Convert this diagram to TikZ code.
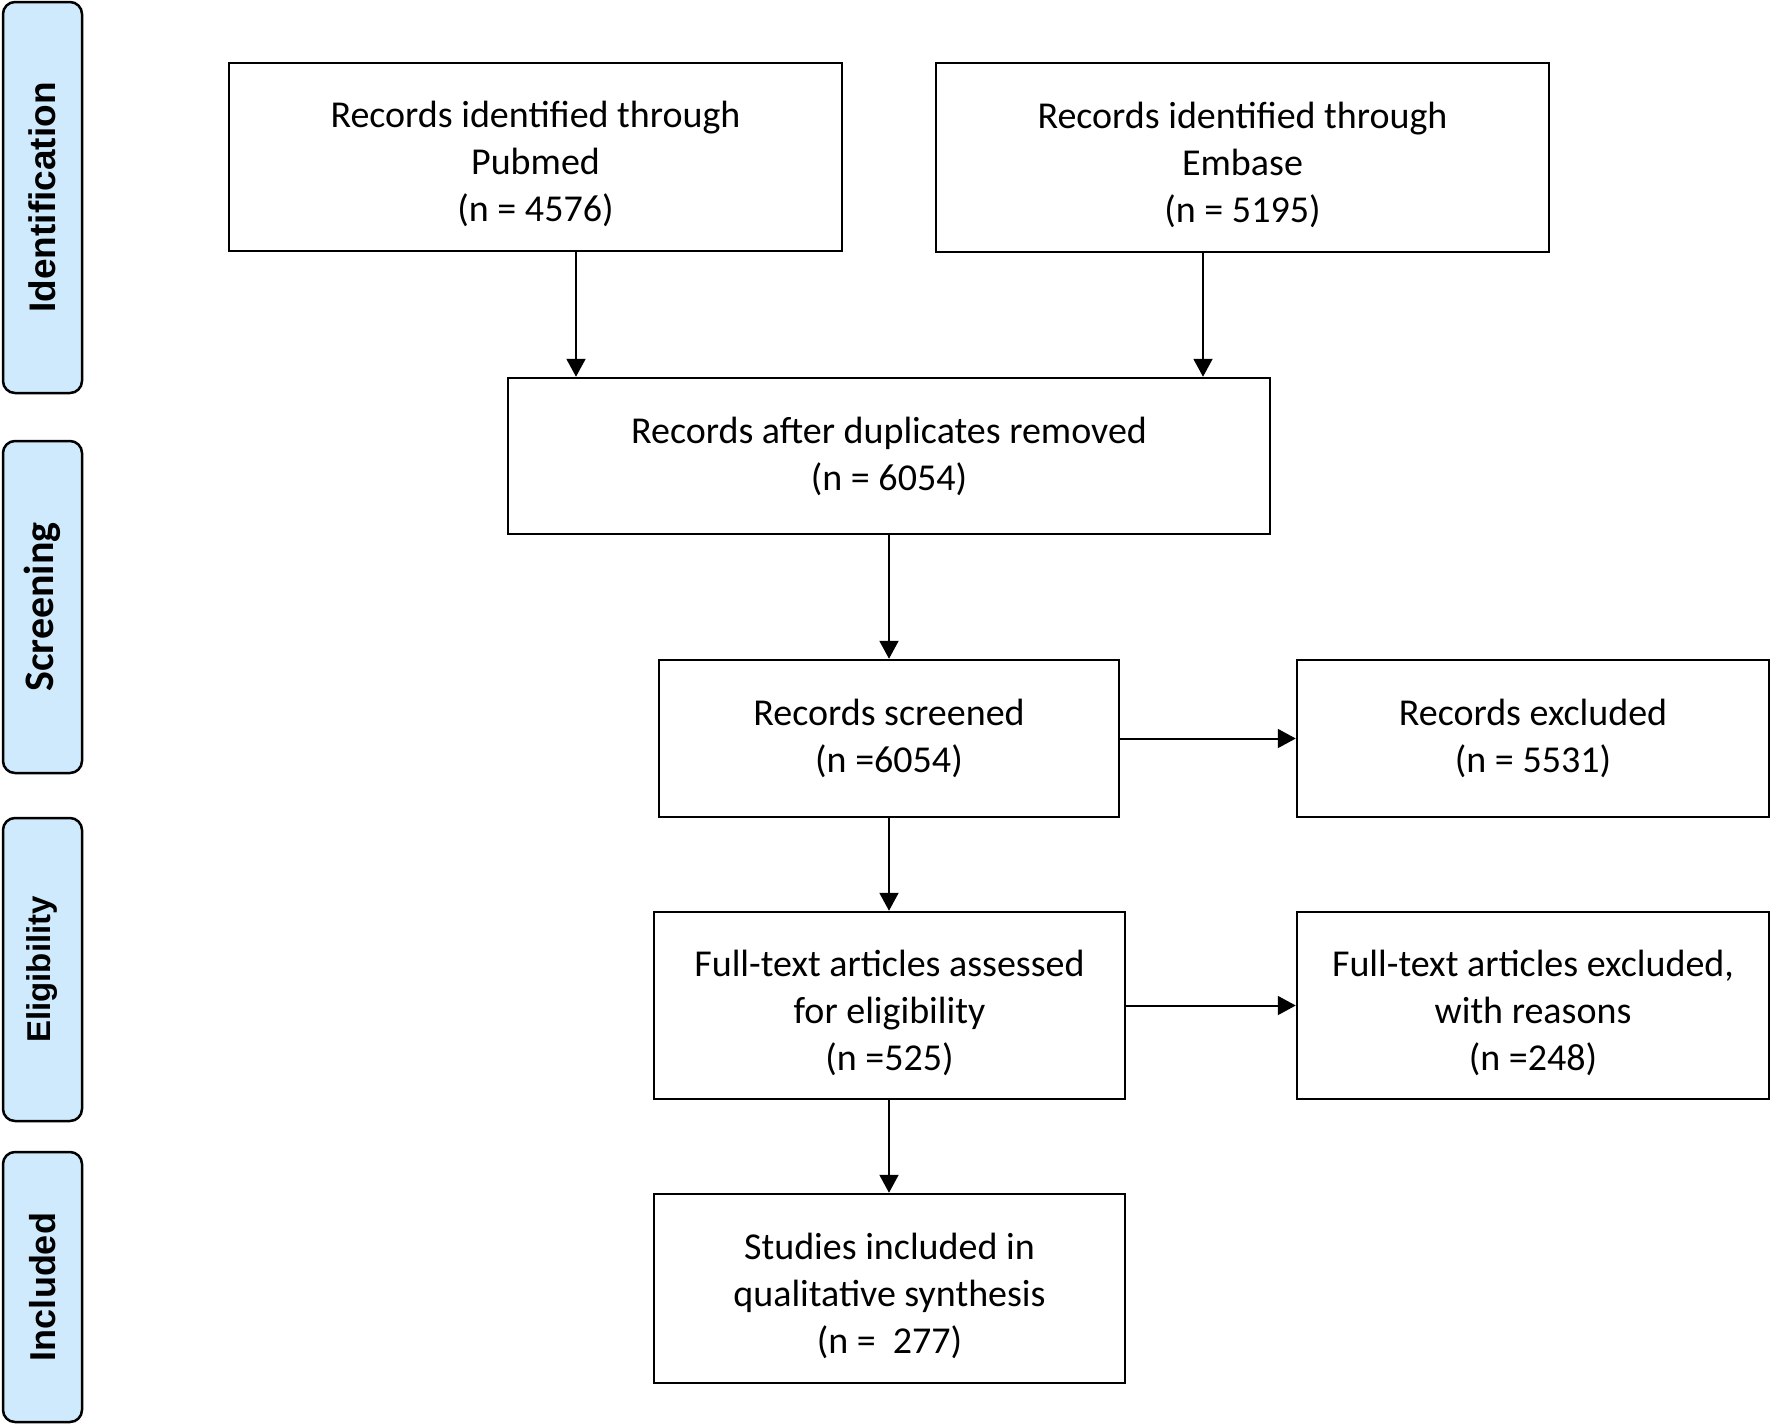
\documentclass[tikz,border=0pt]{standalone}
\usepackage{fontspec}
\setmainfont{Carlito}
\newfontfamily\arialb{Liberation Sans}[BoldFont=* Bold]
\usetikzlibrary{arrows.meta}
\definecolor{barblue}{RGB}{206,234,252}
\begin{document}
\begin{tikzpicture}[x=1pt,y=-1pt,
  box/.style={draw=black, line width=2.5pt, rectangle, inner sep=0pt},
  txt/.style={inner sep=0pt, align=center, font=\fontsize{38}{47}\selectfont},
  bar/.style={draw=black, fill=barblue, line width=2.5pt, rounded corners=12pt,
    rectangle, inner sep=0pt, rotate=90, minimum height=79pt},
  arr/.style={line width=2pt, -{Triangle[length=18pt,width=19pt]}}]
\useasboundingbox (0,0) rectangle (1770,1425);
% phase bars
\node[bar, minimum width=391pt, font=\arialb\bfseries\fontsize{37}{44}\selectfont] (bid) at (42.5,197.5) {Identification};
\node[bar, minimum width=332pt, font=\bfseries\fontsize{42}{48}\selectfont] (bsc) at (42.5,607) {Screening};
\node[bar, minimum width=303pt, font=\arialb\bfseries\fontsize{33}{40}\selectfont] (bel) at (42.5,969.5) {Eligibility};
\node[bar, minimum width=270pt, font=\arialb\bfseries\fontsize{36}{44}\selectfont] (bin) at (42.5,1287) {Included};
% boxes
\node[box, minimum width=613pt, minimum height=188pt] (pub) at (535.5,157) {};
\node[txt] (tpub) at ([yshift=-7pt]pub.center) {Records identified through\\Pubmed\\(n = 4576)};
\node[box, minimum width=613pt, minimum height=189pt] (emb) at (1242.5,157.5) {};
\node[txt] (temb) at ([yshift=-7pt]emb.center) {Records identified through\\Embase\\(n = 5195)};
\node[box, minimum width=762pt, minimum height=156pt] (dup) at (889,456) {};
\node[txt] (tdup) at (dup.center) {Records after duplicates removed\\(n = 6054)};
\node[box, minimum width=460pt, minimum height=157pt] (scr) at (889,738.5) {};
\node[txt] (tscr) at (scr.center) {Records screened\\(n =6054)};
\node[box, minimum width=472pt, minimum height=157pt] (exc) at (1533,738.5) {};
\node[txt] (texc) at (exc.center) {Records excluded\\(n = 5531)};
\node[box, minimum width=471pt, minimum height=187pt] (ful) at (889.5,1005.5) {};
\node[txt] (tful) at ([yshift=-7pt]ful.center) {Full-text articles assessed\\for eligibility\\(n =525)};
\node[box, minimum width=472pt, minimum height=187pt] (rea) at (1533,1005.5) {};
\node[txt] (trea) at ([yshift=-7pt]rea.center) {Full-text articles excluded,\\with reasons\\(n =248)};
\node[box, minimum width=471pt, minimum height=189pt] (inc) at (889.5,1288.5) {};
\node[txt] (tinc) at ([yshift=-7pt]inc.center) {Studies included in\\qualitative synthesis\\(n =\ \ 277)};
% connectors
\coordinate (xa) at (576,0);
\coordinate (xb) at (1203,0);
\coordinate (xc) at (889,0);
\draw[arr] (pub.south -| xa) -- (dup.north -| xa);
\draw[arr] (emb.south -| xb) -- (dup.north -| xb);
\draw[arr] (dup.south -| xc) -- (scr.north -| xc);
\draw[arr] (scr.east) -- (exc.west);
\draw[arr] (scr.south -| xc) -- (ful.north -| xc);
\draw[arr] (ful.east) -- (rea.west);
\draw[arr] (ful.south -| xc) -- (inc.north -| xc);
\end{tikzpicture}
\end{document}
